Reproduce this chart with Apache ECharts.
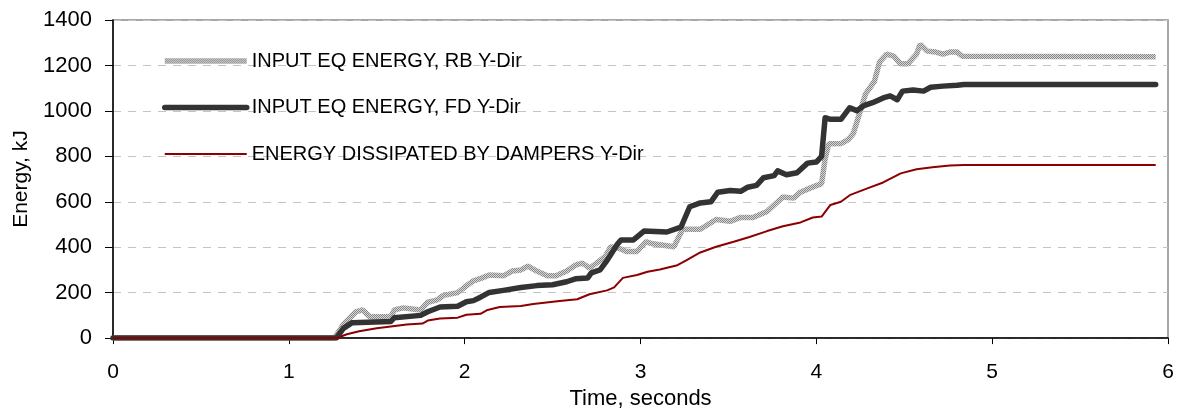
<!DOCTYPE html>
<html>
<head>
<meta charset="utf-8">
<script src="https://cdn.jsdelivr.net/npm/echarts@6/dist/echarts.min.js"></script>
<style>
  html, body { margin: 0; padding: 0; background: #fff; }
  #chart { width: 1184px; height: 415px; }
</style>
</head>
<body>
<div id="chart"></div>
<script>
// time (s) and energy (kJ)
var rbTime = [0, 1.26, 1.31, 1.38, 1.42, 1.46, 1.58, 1.60, 1.65, 1.75, 1.79, 1.84, 1.88, 1.96, 2.01, 2.05, 2.10, 2.14, 2.22, 2.27, 2.32, 2.36, 2.41, 2.47, 2.52, 2.58, 2.63, 2.67, 2.71, 2.75, 2.80, 2.83, 2.88, 2.92, 2.98, 3.03, 3.07, 3.19, 3.24, 3.34, 3.43, 3.51, 3.57, 3.64, 3.72, 3.78, 3.81, 3.87, 3.91, 3.96, 4.03, 4.05, 4.07, 4.14, 4.18, 4.21, 4.25, 4.28, 4.33, 4.36, 4.40, 4.44, 4.48, 4.52, 4.57, 4.59, 4.63, 4.68, 4.72, 4.76, 4.80, 4.83, 5.93]
var rbEnergy = [0, 0, 60, 115, 124, 94, 94, 124, 133, 124, 158, 167, 188, 200, 230, 252, 265, 278, 274, 295, 300, 317, 295, 274, 274, 295, 321, 330, 308, 330, 360, 402, 394, 381, 381, 424, 415, 402, 479, 479, 522, 514, 531, 531, 557, 600, 621, 616, 642, 659, 680, 790, 855, 856, 873, 900, 1000, 1075, 1130, 1216, 1250, 1241, 1207, 1207, 1250, 1293, 1263, 1259, 1250, 1259, 1259, 1241, 1238]

var fdTime = [0, 1.27, 1.31, 1.36, 1.58, 1.60, 1.75, 1.79, 1.86, 1.96, 2.01, 2.05, 2.09, 2.14, 2.22, 2.32, 2.41, 2.50, 2.58, 2.63, 2.70, 2.72, 2.77, 2.81, 2.87, 2.89, 2.96, 3.02, 3.15, 3.23, 3.28, 3.34, 3.40, 3.44, 3.51, 3.57, 3.61, 3.66, 3.70, 3.76, 3.78, 3.83, 3.89, 3.95, 4.00, 4.03, 4.05, 4.08, 4.14, 4.19, 4.23, 4.27, 4.32, 4.38, 4.42, 4.46, 4.49, 4.55, 4.61, 4.65, 4.72, 4.80, 4.84, 5.93]
var fdEnergy = [0, 0, 43, 68, 73, 90, 100, 116, 137, 140, 160, 165, 180, 201, 210, 223, 231, 235, 248, 261, 265, 287, 300, 342, 415, 432, 432, 471, 467, 488, 578, 595, 600, 642, 650, 646, 664, 672, 706, 715, 736, 719, 728, 770, 775, 800, 970, 963, 963, 1014, 1001, 1023, 1036, 1057, 1066, 1049, 1087, 1092, 1087, 1104, 1109, 1113, 1116, 1116]

var dampTime = [0, 1.28, 1.30, 1.33, 1.40, 1.50, 1.58, 1.67, 1.76, 1.79, 1.86, 1.96, 2.01, 2.09, 2.13, 2.20, 2.32, 2.39, 2.54, 2.64, 2.71, 2.81, 2.85, 2.90, 2.98, 3.04, 3.11, 3.21, 3.26, 3.34, 3.43, 3.53, 3.62, 3.72, 3.81, 3.91, 3.98, 4.03, 4.08, 4.14, 4.19, 4.29, 4.38, 4.48, 4.57, 4.66, 4.76, 4.84, 5.93]
var dampEnergy = [0, 0, 8, 17, 30, 43, 51, 60, 64, 77, 86, 90, 103, 107, 124, 137, 141, 150, 163, 171, 193, 210, 223, 265, 278, 292, 302, 321, 342, 377, 402, 424, 445, 471, 492, 509, 531, 535, 586, 600, 629, 659, 685, 725, 743, 752, 760, 762, 762]

var seriesNames = ['INPUT EQ ENERGY, RB Y-Dir', 'INPUT EQ ENERGY, FD Y-Dir', 'ENERGY DISSIPATED BY DAMPERS Y-Dir']

function pairs(t, v) {
  return t.map(function (x, i) { return [x, v[i]] })
}

// stippled grey like the original RB line
var dots = document.createElement('canvas')
dots.width = 2
dots.height = 2
var dctx = dots.getContext('2d')
dctx.fillStyle = '#d6d6d6'
dctx.fillRect(0, 0, 2, 2)
dctx.fillStyle = '#888888'
dctx.fillRect(0, 0, 1, 1)
dctx.fillRect(1, 1, 1, 1)

var font = 'Liberation Sans, Arial, sans-serif'
var chart = echarts.init(document.getElementById('chart'))

chart.setOption({
  animation: false,
  grid: {
    left: 113,
    right: 16,
    top: 20,
    bottom: 68,
    show: true,
    borderColor: '#8a8a8a',
    borderWidth: 1.5
  },
  legend: {
    orient: 'vertical',
    left: 162,
    top: 51,
    padding: 0,
    itemWidth: 82,
    itemHeight: 20,
    itemGap: 26.5,
    selectedMode: false,
    data: seriesNames,
    itemStyle: { opacity: 0 },
    lineStyle: { width: 'inherit' },
    textStyle: { fontFamily: font, fontSize: 20, color: '#000' }
  },
  xAxis: {
    type: 'value',
    min: 0,
    max: 6,
    interval: 1,
    name: 'Time, seconds',
    nameLocation: 'middle',
    nameGap: 47,
    nameTextStyle: { fontFamily: font, fontSize: 22, color: '#000' },
    axisLine: { lineStyle: { color: '#000', width: 1.5 } },
    axisTick: { length: 6, lineStyle: { color: '#000' } },
    axisLabel: { margin: 24, fontFamily: font, fontSize: 21, color: '#000' },
    splitLine: { show: false }
  },
  yAxis: {
    type: 'value',
    min: 0,
    max: 1400,
    interval: 200,
    name: 'Energy, kJ',
    nameLocation: 'middle',
    nameGap: 78,
    nameTextStyle: { fontFamily: font, fontSize: 21, color: '#000' },
    axisLine: { show: true, lineStyle: { color: '#000', width: 1.5 } },
    axisTick: { show: true, length: 8, lineStyle: { color: '#000' } },
    axisLabel: {
      margin: 21,
      fontFamily: font,
      fontSize: 22,
      color: '#000',
      formatter: function (v) { return String(v) }
    },
    splitLine: { lineStyle: { color: '#c4c4c4', type: [8, 7], width: 1 } }
  },
  series: [
    {
      name: seriesNames[0],
      type: 'line',
      symbol: 'none',
      data: pairs(rbTime, rbEnergy),
      lineStyle: { width: 5.5, color: { image: dots, repeat: 'repeat' } },
      itemStyle: { color: '#b0b0b0' }
    },
    {
      name: seriesNames[1],
      type: 'line',
      symbol: 'none',
      data: pairs(fdTime, fdEnergy),
      lineStyle: { width: 5.5, color: '#333333', cap: 'round', join: 'round' },
      itemStyle: { color: '#333333' }
    },
    {
      name: seriesNames[2],
      type: 'line',
      symbol: 'none',
      data: pairs(dampTime, dampEnergy),
      lineStyle: { width: 2, color: '#8b0000' },
      itemStyle: { color: '#8b0000' }
    }
  ]
})
</script>
</body>
</html>
